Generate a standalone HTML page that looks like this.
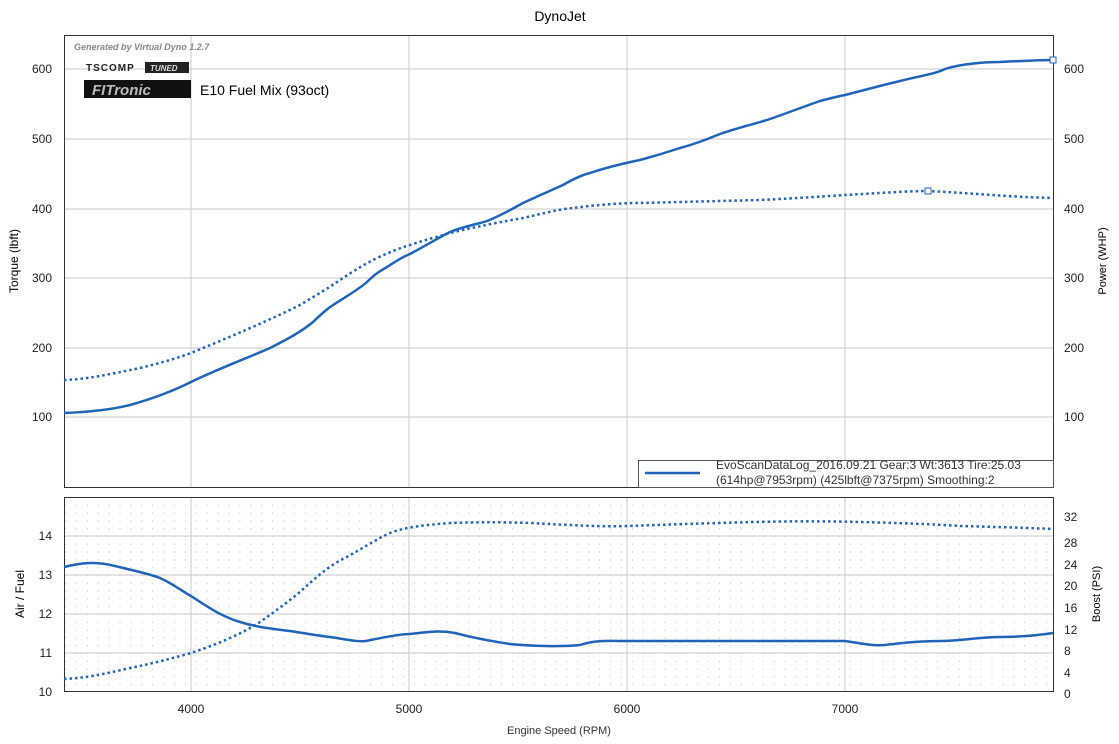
<!DOCTYPE html>
<html><head><style>body{margin:0;background:#fff}svg{display:block;font-family:"Liberation Sans",Arial,sans-serif}</style></head><body>
<svg width="1119" height="744" viewBox="0 0 1119 744">
<defs>
<pattern id="mg" x="65" y="497" width="43.6" height="7.8" patternUnits="userSpaceOnUse"><rect x="0" y="0" width="1" height="1" fill="#bbb"/><rect x="10.9" y="0" width="1" height="1" fill="#bbb"/><rect x="21.8" y="0" width="1" height="1" fill="#bbb"/><rect x="32.7" y="0" width="1" height="1" fill="#bbb"/></pattern>
</defs>
<text x="560" y="21" font-size="14" text-anchor="middle">DynoJet</text>
<g stroke="#c8c8c8" stroke-width="1">
<line x1="191" y1="35" x2="191" y2="487"/><line x1="409" y1="35" x2="409" y2="487"/><line x1="627" y1="35" x2="627" y2="487"/><line x1="845" y1="35" x2="845" y2="487"/>
<line x1="64" y1="69" x2="1053" y2="69"/><line x1="64" y1="139" x2="1053" y2="139"/><line x1="64" y1="209" x2="1053" y2="209"/><line x1="64" y1="278" x2="1053" y2="278"/><line x1="64" y1="348" x2="1053" y2="348"/><line x1="64" y1="417" x2="1053" y2="417"/>
</g>
<rect x="64.5" y="35.5" width="989" height="452" fill="none" stroke="#333"/>
<g font-size="12" fill="#222" text-anchor="end">
<text x="52" y="73">600</text><text x="52" y="143">500</text><text x="52" y="213">400</text><text x="52" y="282">300</text><text x="52" y="352">200</text><text x="52" y="421">100</text>
</g>
<g font-size="12" fill="#222">
<text x="1064" y="73">600</text><text x="1064" y="143">500</text><text x="1064" y="213">400</text><text x="1064" y="282">300</text><text x="1064" y="352">200</text><text x="1064" y="421">100</text>
</g>
<text transform="translate(18,261) rotate(-90)" font-size="12" text-anchor="middle">Torque (lbft)</text>
<text transform="translate(1106,261) rotate(-90)" font-size="11" text-anchor="middle">Power (WHP)</text>
<text x="74" y="50" font-size="9" font-style="italic" font-weight="bold" fill="#888">Generated by Virtual Dyno 1.2.7</text>
<text x="86" y="71" font-size="10" font-weight="bold" fill="#222" letter-spacing="1">TSCOMP</text>
<rect x="145" y="62" width="44" height="11" fill="#222"/><text x="150" y="71" font-size="8" font-style="italic" font-weight="bold" fill="#ddd">TUNED</text>
<rect x="84" y="80" width="107" height="18" fill="#111"/><text x="92" y="95" font-size="15" font-style="italic" font-weight="bold" fill="#bbb">FITronic</text>
<text x="200" y="95" font-size="14">E10 Fuel Mix (93oct)</text>
<path d="M64,380 C90,379 110,374 140,368 C165,362 180,357 191,353 C230,337 270,320 300,305 C315,296 330,287 340,280 C355,270 365,264 377,258 C390,252 400,248 410,245 C425,240 440,236 450,233 C475,227 500,222 523,218 C545,213 560,209 573,208 C595,205 620,203 640,203 C680,202 720,201 760,200 C800,198 830,196 845,195 C880,193 910,191 928,191 C970,193 1010,197 1053,198" fill="none" stroke="#1f64b8" stroke-width="2.5" stroke-dasharray="2.5 3"/>
<path d="M64,413 C90,412 110,410 130,405 C155,398 175,390 191,382 C220,368 250,357 270,348 C290,338 302,331 313,322 C320,315 325,311 330,307 C345,297 358,290 367,282 C375,274 380,271 387,267 C395,262 402,257 410,254 C425,246 440,237 450,232 C465,226 478,224 487,221 C500,216 512,209 523,203 C540,195 552,190 563,185 C575,178 582,175 590,173 C605,168 620,164 640,160 C655,156 668,152 680,148 C695,144 705,140 720,134 C740,127 755,124 770,119 C790,112 800,108 820,101 C835,97 840,96 845,95 C865,90 875,87 900,81 C920,76 935,74 945,69 C960,64 985,62 1000,62 C1020,61 1040,60 1053,60" fill="none" stroke="#1f64b8" stroke-width="2.5"/>
<rect x="925" y="188" width="6" height="6" fill="#fff" stroke="#1f64b8"/>
<rect x="1050" y="57" width="6" height="6" fill="#fff" stroke="#1f64b8"/>
<rect x="638.5" y="460.5" width="415" height="27" fill="#fff" stroke="#555"/>
<line x1="645" y1="473" x2="700" y2="473" stroke="#1f64b8" stroke-width="2.5"/>
<text x="716" y="469" font-size="12" fill="#333">EvoScanDataLog_2016.09.21 Gear:3 Wt:3613 Tire:25.03</text>
<text x="716" y="484" font-size="12" fill="#333">(614hp@7953rpm) (425lbft@7375rpm) Smoothing:2</text>
<rect x="65" y="497" width="988" height="195" fill="url(#mg)"/>
<g stroke="#c8c8c8" stroke-width="1">
<line x1="191" y1="497" x2="191" y2="692"/><line x1="409" y1="497" x2="409" y2="692"/><line x1="627" y1="497" x2="627" y2="692"/><line x1="845" y1="497" x2="845" y2="692"/>
<line x1="64" y1="536" x2="1053" y2="536"/><line x1="64" y1="575" x2="1053" y2="575"/><line x1="64" y1="614" x2="1053" y2="614"/><line x1="64" y1="653" x2="1053" y2="653"/>
</g>
<rect x="64.5" y="497.5" width="989" height="194" fill="none" stroke="#333"/>
<g font-size="12" fill="#222" text-anchor="end">
<text x="52" y="540">14</text><text x="52" y="579">13</text><text x="52" y="618">12</text><text x="52" y="657">11</text><text x="52" y="696">10</text>
</g>
<g font-size="12" fill="#222">
<text x="1064" y="521">32</text><text x="1064" y="547">28</text><text x="1064" y="569">24</text><text x="1064" y="590">20</text><text x="1064" y="612">16</text><text x="1064" y="634">12</text><text x="1064" y="655">8</text><text x="1064" y="677">4</text><text x="1064" y="698">0</text>
</g>
<text transform="translate(24,594) rotate(-90)" font-size="12" text-anchor="middle">Air / Fuel</text>
<text transform="translate(1100,594) rotate(-90)" font-size="11" text-anchor="middle">Boost (PSI)</text>
<g font-size="12" fill="#222" text-anchor="middle">
<text x="191" y="713">4000</text><text x="409" y="713">5000</text><text x="627" y="713">6000</text><text x="845" y="713">7000</text>
</g>
<text x="559" y="734" font-size="11" text-anchor="middle" fill="#333">Engine Speed (RPM)</text>
<path d="M64,567 C80,563 95,561 115,566 C135,571 150,574 160,578 C175,585 180,590 191,596 C205,605 220,616 240,622 C260,628 275,629 290,631 C310,634 320,636 330,637 C345,639 355,642 366,641 C385,637 400,634 409,634 C430,632 440,630 455,633 C470,637 490,641 510,644 C530,646 560,647 580,645 C595,640 605,641 627,641 L845,641 C860,643 870,646 885,645 C900,643 920,641 940,641 C960,641 980,637 1000,637 C1020,637 1040,635 1053,633" fill="none" stroke="#1f64b8" stroke-width="2.5"/>
<path d="M64,679 C85,678 100,675 130,668 C150,664 170,659 191,653 C215,645 240,635 260,622 C280,608 290,600 300,592 C315,578 330,565 345,558 C365,547 375,540 390,533 C405,527 425,525 450,523 C480,522 500,522 530,523 C570,525 600,527 627,526 C660,525 680,524 720,523 C780,521 820,521 860,522 C900,523 930,524 960,526 C1000,527 1030,528 1053,529" fill="none" stroke="#1f64b8" stroke-width="2.5" stroke-dasharray="2.5 3"/>
</svg>
</body></html>
